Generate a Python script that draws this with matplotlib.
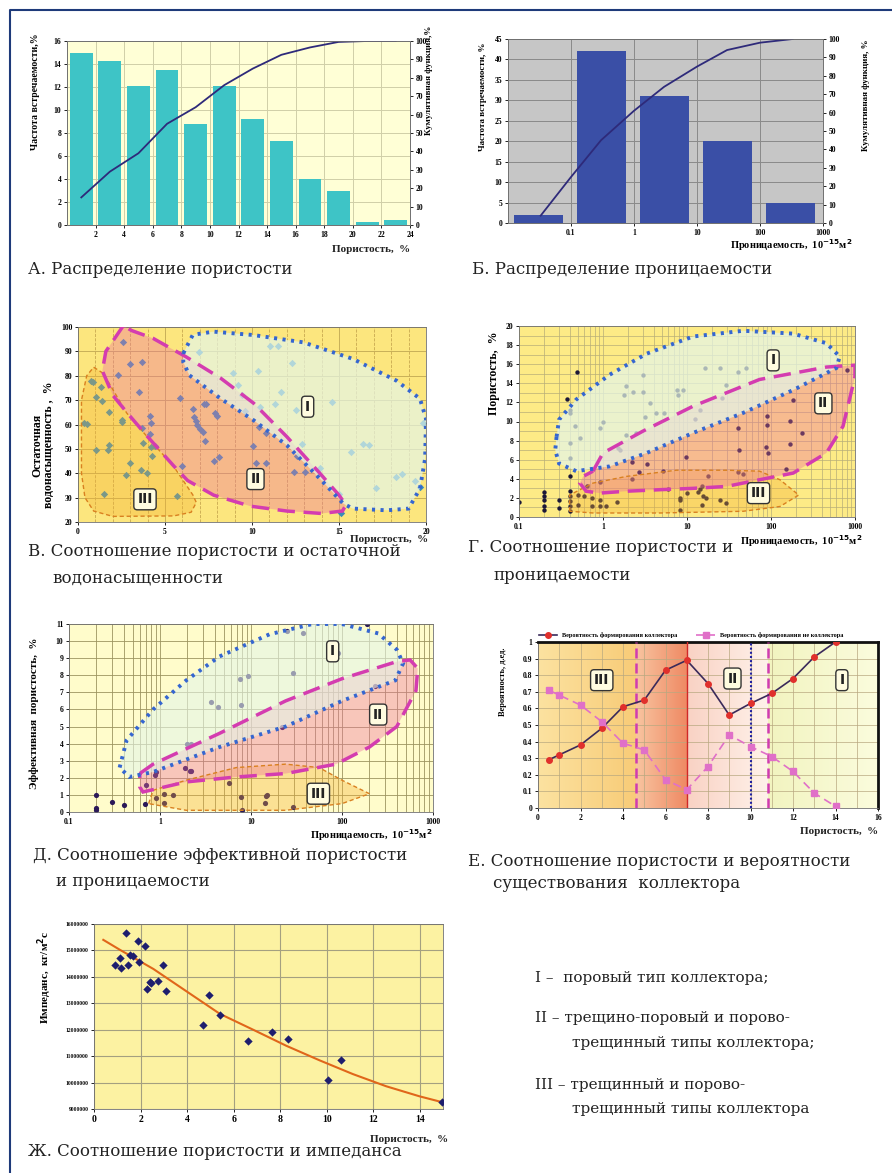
import numpy as np
import matplotlib
matplotlib.use('Agg')
import matplotlib.pyplot as plt
from matplotlib.patches import Polygon
from matplotlib.lines import Line2D
from matplotlib.colors import LinearSegmentedColormap
from matplotlib.ticker import FuncFormatter

plt.rcParams['font.family'] = ['Liberation Serif', 'DejaVu Serif']
plt.rcParams['font.weight'] = 'bold'

# ---------------- data ----------------
# A: porosity distribution
poro_bin_mid = [1, 3, 5, 7, 9, 11, 13, 15, 17, 19, 21, 23]
poro_freq = [15.0, 14.3, 12.1, 13.5, 8.8, 12.1, 9.2, 7.3, 4.0, 3.0, 0.3, 0.4]
poro_cum = [15, 29, 39, 55, 64, 76, 85, 92.5, 96.5, 99.5, 100, 100]

# B: permeability distribution
perm_bin_low = [0.01, 0.1, 1, 10, 100]
perm_freq = [2, 42, 31, 20, 5]
perm_cum_x = [0.033, 0.1, 0.3, 1, 3, 10, 30, 100, 330]
perm_cum_y = [4, 25, 45, 61, 74, 85, 94, 98, 100]

# V: porosity vs residual water saturation
v_poro = [2.6, 3.0, 3.66, 2.28, 3.53, 0.77, 0.88, 1.32, 1.05, 1.4, 1.8, 0.34, 0.5,
          2.55, 2.5, 4.14, 4.18, 3.66, 4.14, 1.02, 1.8, 1.7, 3.75, 4.18, 4.43, 4.23,
          3.0, 2.76, 3.6, 3.98, 1.49, 5.67, 5.96, 5.86, 6.59, 6.68, 6.78, 6.82, 7.01,
          7.16, 7.3, 7.26, 7.36, 7.88, 7.97, 7.81, 8.12, 6.97, 8.93, 9.2, 9.4, 9.6,
          10.04, 10.42, 10.23, 10.36, 10.46, 10.83, 10.83, 11.05, 11.5, 11.64, 11.3,
          12.3, 12.5, 12.6, 12.9, 13.05, 12.4, 13.9, 14.6, 15.0, 15.1, 15.7, 16.4,
          16.7, 17.1, 18.3, 18.6, 19.35, 19.65, 19.85]
v_swr = [93.7, 84.7, 85.5, 80.3, 73.5, 77.8, 77.5, 75.5, 71.2, 69.7, 65.3, 60.5, 60.1,
         62, 61, 63.5, 60.5, 58.5, 56.0, 49.5, 51.5, 49.5, 52.5, 50.7, 51, 47.1,
         44.1, 39.4, 41.4, 40, 31.5, 30.7, 43, 70.8, 66.2, 63, 61.6, 60, 58,
         57, 53.3, 68.6, 68.3, 64.6, 63.3, 45.0, 46.6, 89.9, 81.3, 76.3, 72.2, 65.4,
         51, 58.8, 44.1, 82, 67.3, 56.5, 44.1, 92.2, 92.3, 73.5, 68.3,
         85.4, 66.1, 47, 52, 40.5, 40.7, 42, 69.1, 31.6, 23.8, 48.8, 52.2,
         51.5, 33.8, 38.4, 39.7, 37, 34.3, 60.5]

# G: permeability vs porosity
g_perm = [0.1, 0.2, 0.2, 0.2, 0.2, 0.2, 0.3, 0.3, 0.4, 0.4, 0.4, 0.4, 0.4, 0.37,
          0.4, 0.4, 0.4, 0.49, 0.5, 0.5, 0.6, 0.64, 0.73, 0.73, 0.91, 0.91, 0.91,
          1.1, 1.45, 2.2, 2.2, 2.7, 3.35, 5.2, 5.9, 9.6, 8.2, 8.2, 8.3, 10, 13.7,
          14.3, 15, 15.3, 17, 15, 24.5, 29.5, 17.9, 40.7, 41.8, 40.7, 46.6, 87, 93,
          89, 90, 184, 168, 168, 152, 236, 800,
          0.46, 0.4, 0.4, 0.53, 1.0, 0.91, 1.9, 2.5, 1.8, 1.87, 2.3, 3.0, 3.15, 3.6,
          4.3, 5.3, 3.0, 7.7, 7.9, 9.0, 12.4, 14.4, 16.2, 24.5, 29.5, 26.2, 40.7,
          51, 1.5, 1.6]
g_poro = [1.53, 2.58, 2.16, 1.74, 1.11, 0.77, 1.8, 0.94, 2.7, 2.16, 1.64, 1.1, 0.6,
          12.4, 11.2, 10.9, 4.3, 15.2, 2.3, 1.3, 2.2, 3.2, 2.0, 1.1, 1.1, 1.8, 3.7,
          1.1, 1.6, 5.8, 4.0, 4.7, 5.5, 4.8, 2.9, 6.3, 2.0, 1.74, 0.77, 2.5, 2.6,
          2.9, 3.2, 2.2, 2.0, 1.3, 1.8, 1.46, 4.25, 9.3, 7.0, 4.7, 4.5, 7.3, 6.7,
          9.65, 10.6, 12.3, 10.1, 7.6, 5.0, 8.8, 15.4,
          9.5, 7.7, 6.2, 8.3, 10.0, 9.3, 8.6, 8.8, 12.8, 13.7, 13.1, 14.9, 10.5, 11.9,
          10.9, 10.9, 13.1, 13.3, 12.8, 13.3, 10.3, 11.2, 15.6, 15.6, 13.8, 12.5, 15.2,
          15.6, 7.2, 7.0]

# D: permeability vs effective porosity
d_perm = [0.2, 0.2, 0.2, 0.3, 0.4, 0.69, 0.7, 0.91, 0.89, 0.91, 1.1, 1.1, 1.38,
          1.9, 2.15, 2.2, 2.2, 5.8, 7.8, 8.0, 14.1, 14.7, 14.9, 29,
          3.66, 4.3, 7.5, 9.2, 7.8, 29, 25, 37, 190, 90, 230, 22, 2.0]
d_poro = [0.98, 0.25, 0.14, 0.59, 0.39, 0.49, 1.56, 0.84, 2.15, 2.34, 1.07, 0.53, 1.0,
          2.6, 2.4, 2.4, 4.0, 1.7, 0.9, 0.14, 0.5, 0.92, 1.0, 0.3,
          6.45, 6.15, 7.8, 7.95, 6.25, 8.15, 10.6, 10.5, 11.0, 9.3, 7.4, 5.0, 4.0]

# E: porosity vs probability
e_poro = [0.5, 1, 2, 3, 4, 5, 6, 7, 8, 9, 10, 11, 12, 13, 14]
e_prob_res = [0.29, 0.32, 0.38, 0.48, 0.61, 0.65, 0.83, 0.89, 0.75, 0.56, 0.63, 0.69,
              0.78, 0.91, 1.0]
e_prob_non = [0.71, 0.68, 0.62, 0.52, 0.39, 0.35, 0.17, 0.11, 0.25, 0.44, 0.37, 0.31,
              0.22, 0.09, 0.01]
e_zone_edges = [0, 4.6, 7, 10.8, 16]

# Zh: porosity vs impedance
z_poro = [0.9, 1.12, 1.16, 1.37, 1.47, 1.55, 1.69, 1.9, 1.95, 2.19, 2.26, 2.4, 2.47,
          2.76, 2.98, 3.09, 4.69, 4.95, 5.41, 6.6, 7.65, 8.34, 10.06, 10.63, 14.96]
z_imp = [14.45, 14.7, 14.33, 15.67, 14.45, 14.83, 14.8, 15.37, 14.58, 15.17, 13.55,
         13.82, 13.76, 13.86, 14.45, 13.47, 12.16, 13.32, 12.56, 11.58, 11.9, 11.64,
         10.08, 10.86, 9.28]
z_trend_x = [0.4, 1.12, 2.55, 3.98, 5.41, 6.84, 8.27, 9.7, 11.13, 12.56, 13.99, 15]
z_trend_y = [15.4, 15.02, 14.3, 13.45, 12.6, 12.0, 11.39, 10.84, 10.32, 9.86, 9.48, 9.25]

# zone outlines (hand traced)
v_zone3 = [(0.9, 83.5), (1.45, 81), (2.8, 64.7), (4.3, 52.3), (5.5, 42.8), (6.6, 31.1),
           (6.8, 28), (6.5, 24), (5.5, 22.5), (2.0, 22.3), (0.9, 24.5), (0.4, 30),
           (0.2, 40), (0.2, 70), (0.5, 80)]
v_zone2 = [(2.6, 100.5), (1.6, 90), (1.4, 82), (2.0, 72), (2.8, 65), (4.0, 55), (5.5, 43),
           (6.3, 37), (7.8, 31), (9.9, 26.5), (12, 24.5), (14, 23.5), (15.2, 24.5),
           (15.4, 27), (15.0, 31), (13.9, 40), (12, 55), (10.1, 68.7), (8.2, 79),
           (6.2, 87.8), (4.3, 95.4), (3.1, 98.5)]
v_zone1 = [(6.05, 89.2), (6.6, 96.8), (7.78, 98.1), (10.08, 96.7), (12.95, 93.7),
           (15.8, 86.9), (18.3, 78), (19.65, 70.6), (20.0, 62.4), (19.95, 46),
           (19.65, 33.7), (19.0, 25.5), (17.75, 24.8), (15.8, 25.5), (15.25, 27.5),
           (13.9, 37.8), (12.0, 51.5), (10.1, 61.7), (8.2, 70.6), (6.4, 80.2), (6.05, 85.6)]

g_zone1 = [(0.28, 8.4), (0.3, 10.2), (0.48, 12.3), (1.2, 14.9), (3.3, 17.1), (11.8, 18.9),
           (46.6, 19.5), (184, 19.2), (456, 18.2), (658, 16.8), (600, 15.6), (184, 13.3),
           (46.6, 10.9), (11.8, 8.8), (3.3, 6.7), (1.2, 5.3), (0.48, 4.8), (0.3, 5.6),
           (0.27, 7.0)]
g_zone2 = [(0.76, 4.8), (1.0, 6.7), (3.0, 9.0), (11.8, 11.6), (73, 14.4), (456, 15.7),
           (1000, 15.9), (1000, 14.7), (720, 9.5), (456, 6.7), (184, 4.6), (73, 3.9),
           (29.5, 3.2), (11.8, 3.0), (4.8, 2.86), (1.9, 2.7), (0.91, 2.5), (0.63, 2.7),
           (0.53, 3.55), (0.58, 4.25)]
g_zone3 = [(0.4, 0.6), (0.4, 2.3), (0.76, 3.55), (1.9, 4.25), (7.5, 4.9), (29.5, 4.9),
           (73, 4.8), (128, 3.9), (214, 2.3), (128, 1.1), (46.6, 0.6), (4.8, 0.42),
           (0.76, 0.42)]

d_zone1 = [(0.36, 2.6), (0.43, 4.2), (0.84, 6.0), (1.94, 7.7), (4.5, 9.1), (16, 10.4),
           (47.5, 11.0), (100, 11.0), (250, 10.45), (400, 9.5), (470, 8.7), (385, 7.7),
           (100, 6.5), (24, 5.0), (4.5, 3.8), (0.84, 2.34), (0.46, 2.05)]
d_zone2 = [(0.6, 2.25), (0.84, 2.8), (4.5, 4.6), (24, 6.5), (100, 7.8), (400, 8.8),
           (560, 8.9), (680, 8.4), (650, 7.1), (400, 5.0), (200, 3.8), (86, 2.8),
           (24, 2.25), (6.9, 2.05), (1.94, 1.76), (0.65, 1.17), (0.6, 1.46), (0.6, 1.86)]
d_zone3 = [(0.75, 0.49), (0.84, 1.27), (1.94, 1.86), (6.9, 2.6), (24, 2.8), (56, 2.6),
           (100, 1.86), (200, 1.07), (100, 0.49), (24, 0.1), (1.94, 0.1)]

# ---------------- layout helpers ----------------
W, H = 892, 1173
fig = plt.figure(figsize=(W / 100, H / 100), dpi=100)


def panel(x0, y0, x1, y1, bg):
    ax = fig.add_axes([x0 / W, 1 - y1 / H, (x1 - x0) / W, (y1 - y0) / H])
    ax.set_facecolor(bg)
    ax.tick_params(labelsize=5.5, length=2, width=0.6, pad=2)
    for s in ax.spines.values():
        s.set_linewidth(0.6)
        s.set_color('#707070')
    ax.set_axisbelow(True)
    return ax


def ftext(x, y, s, **kw):
    return fig.text(x / W, 1 - y / H, s, **kw)


def caption(x, y, s):
    ftext(x, y, s, fontsize=12, family='DejaVu Serif', fontweight='normal',
          ha='left', va='center', color='#222222')


def zone_box(ax, x, y, s):
    ax.text(x, y, s, ha='center', va='center', fontsize=10, fontweight='bold',
            family='DejaVu Sans', color='#222222', zorder=10,
            bbox=dict(boxstyle='round,pad=0.25', fc='#FFFCE0', ec='#333333', lw=1.0))


def zones(ax, z1, z2, z3, a1=0.6):
    ax.add_patch(Polygon(z3, closed=True, fc='#F5B030', alpha=0.35, ec='none', zorder=3))
    ax.add_patch(Polygon(z2, closed=True, fc='#EE6FA0', alpha=0.38, ec='none', zorder=3))
    ax.add_patch(Polygon(z1, closed=True, fc='#E4F6E8', alpha=a1, ec='none', zorder=3))
    ax.add_patch(Polygon(z3, closed=True, fill=False, ec='#D98020', lw=1.0,
                         ls=(0, (3, 2)), zorder=5))
    ax.add_patch(Polygon(z2, closed=True, fill=False, ec='#D43CB0', lw=2.5,
                         ls=(0, (5, 2.5)), zorder=5))
    ax.add_patch(Polygon(z1, closed=True, fill=False, ec='#3566D0', lw=2.8,
                         ls=(0, (0.8, 1.4)), zorder=6))


def right_axis(ax):
    ax2 = ax.twinx()
    ax2.set_ylim(0, 100)
    ax2.set_yticks(range(0, 101, 10))
    ax2.tick_params(labelsize=5.5, length=2, width=0.6, pad=2)
    for s in ax2.spines.values():
        s.set_linewidth(0.6)
        s.set_color('#707070')
    return ax2


lab_kw = dict(fontsize=8, fontweight='bold', color='#222222')
perm_label = 'Проницаемость,  10$^{-15}$м$^2$'

# ---------------- A ----------------
ax = panel(67, 41, 410, 225, '#FFFFD6')
ax.bar(poro_bin_mid, poro_freq, width=1.6, color='#3EC4C6', zorder=2)
ax.set_xlim(0, 24)
ax.set_ylim(0, 16)
ax.set_xticks(range(2, 25, 2))
ax.set_yticks(range(0, 17, 2))
ax.grid(color='#D0CFA8', lw=0.7)
ax2 = right_axis(ax)
ax2.plot(poro_bin_mid, poro_cum, color='#2E2A7A', lw=1.3)
ftext(36, 33, 'Частота встречаемости,%', rotation=90, ha='center', va='top', fontsize=7)
ftext(429, 26, 'Кумулятивная функция,%', rotation=90, ha='center', va='top', fontsize=6.5)
ftext(410, 250, 'Пористость,  %', ha='right', va='center', **lab_kw)
caption(28, 270, 'А. Распределение пористости')

# ---------------- B ----------------
ax = panel(508, 39, 823, 223, '#C6C6C6')
ax.set_xscale('log')
for low, h in zip(perm_bin_low, perm_freq):
    ax.fill_between([low * 10 ** 0.1, low * 10 ** 0.88], 0, h, color='#3A4FA6',
                    lw=0, zorder=2)
ax.set_xlim(0.01, 1000)
ax.set_ylim(0, 45)
ax.set_xticks([0.1, 1, 10, 100, 1000])
ax.set_xticklabels(['0.1', '1', '10', '100', '1000'])
ax.minorticks_off()
ax.set_yticks(range(0, 46, 5))
ax.grid(color='#8A8A8A', lw=0.7)
ax2 = right_axis(ax)
ax2.plot(perm_cum_x, perm_cum_y, color='#2E2A7A', lw=1.3)
ftext(483, 97, 'Частота встречаемости, %', rotation=90, ha='center', va='center', fontsize=6.5)
ftext(866, 95, 'Кумулятивная функция, %', rotation=90, ha='center', va='center', fontsize=6.5)
ftext(852, 245, perm_label, ha='right', va='center', fontsize=7.5, fontweight='bold')
caption(472, 270, 'Б. Распределение проницаемости')

# ---------------- V ----------------
ax = panel(78, 327, 426, 522, '#FCE67E')
ax.scatter(v_poro, v_swr, marker='D', s=14, color='#3A8CB8', zorder=2, lw=0)
zones(ax, v_zone1, v_zone2, v_zone3, a1=0.7)
ax.set_xlim(0, 20)
ax.set_ylim(20, 100)
ax.set_xticks([0, 5, 10, 15, 20])
ax.set_yticks(range(20, 101, 10))
ax.set_xticks(range(0, 21), minor=True)
ax.tick_params(which='minor', length=0)
ax.grid(which='major', color='#C8B058', lw=0.7)
ax.grid(which='minor', axis='x', color='#C8A850', lw=0.6, ls='--')
zone_box(ax, 13.2, 67.3, 'I')
zone_box(ax, 10.2, 37.6, 'II')
zone_box(ax, 3.85, 29.3, 'III')
ftext(43, 445, 'Остаточная\nводонасыщенность ,  %', rotation=90, ha='center', va='center',
      fontsize=8.5, fontweight='bold', linespacing=1.0)
ftext(428, 540, 'Пористость,  %', ha='right', va='center', **lab_kw)
caption(28, 551, 'В. Соотношение пористости и остаточной')
caption(52, 578, 'водонасыщенности')

# ---------------- G ----------------
ax = panel(519, 326, 855, 517, '#FDEB86')
ax.set_xscale('log')
ax.scatter(g_perm, g_poro, s=10, color='#1C1838', zorder=2, lw=0)
zones(ax, g_zone1, g_zone2, g_zone3, a1=0.72)
ax.set_xlim(0.1, 1000)
ax.set_ylim(0, 20)
ax.set_xticks([0.1, 1, 10, 100, 1000])
ax.set_xticklabels(['0.1', '1', '10', '100', '1000'])
ax.set_yticks(range(0, 21, 2))
ax.set_yticks(range(0, 21), minor=True)
ax.tick_params(which='minor', length=0)
ax.grid(which='both', color='#B8AE78', lw=0.5)
zone_box(ax, 106, 16.4, 'I')
zone_box(ax, 420, 11.9, 'II')
zone_box(ax, 71, 2.5, 'III')
ftext(494, 373, 'Пористость,  %', rotation=90, ha='center', va='center', fontsize=8.5)
ftext(862, 541, perm_label, ha='right', va='center', fontsize=7.5, fontweight='bold')
caption(468, 548, 'Г. Соотношение пористости и')
caption(493, 575, 'проницаемости')

# ---------------- D ----------------
ax = panel(69, 624, 433, 812, '#FFFCCB')
ax.set_xscale('log')
ax.scatter(d_perm, d_poro, s=14, color='#2A1858', zorder=2, lw=0)
zones(ax, d_zone1, d_zone2, d_zone3, a1=0.6)
ax.set_xlim(0.1, 1000)
ax.set_ylim(0, 11)
ax.set_xticks([0.1, 1, 10, 100, 1000])
ax.set_xticklabels(['0.1', '1', '10', '100', '1000'])
ax.set_yticks(range(0, 12))
ax.tick_params(which='minor', length=0)
ax.grid(which='both', color='#9C9460', lw=0.6)
zone_box(ax, 79, 9.4, 'I')
zone_box(ax, 250, 5.7, 'II')
zone_box(ax, 55, 1.07, 'III')
ftext(34, 713, 'Эффективная  пористость,  %', rotation=90, ha='center', va='center', fontsize=8)
ftext(432, 835, perm_label, ha='right', va='center', fontsize=7.5, fontweight='bold')
caption(33, 856, 'Д. Соотношение эффективной пористости')
caption(56, 881, 'и проницаемости')

# ---------------- E ----------------
ax = panel(538, 642, 878, 808, '#FFFFFF')
band_colors = [('#FCE2A0', '#F8CC78'), ('#F8C4A0', '#EF8A64'),
               ('#F9D2C4', '#FFF2EA'), ('#F2F4C0', '#FBFCDD')]
for (a, b), (c0, c1) in zip(zip(e_zone_edges[:-1], e_zone_edges[1:]), band_colors):
    cmap = LinearSegmentedColormap.from_list('band', [c0, c1])
    ax.imshow(np.linspace(0, 1, 64).reshape(1, -1), cmap=cmap, aspect='auto',
              extent=(a, b, 0, 1), zorder=0, interpolation='bilinear')
ax.set_xlim(0, 16)
ax.set_ylim(0, 1)
ax.set_xticks(range(0, 17, 2))
ax.set_xticks(range(0, 17), minor=True)
ax.set_yticks(np.round(np.arange(0, 1.01, 0.1), 1))
ax.set_yticklabels(['0', '0.1', '0.2', '0.3', '0.4', '0.5', '0.6', '0.7', '0.8', '0.9', '1'])
ax.tick_params(which='minor', length=0)
ax.grid(which='both', color='#B8A880', lw=0.5, zorder=1)
ax.axvline(4.6, color='#D03CB0', lw=1.8, ls=(0, (4, 2)), zorder=3)
ax.axvline(7, color='#D02828', lw=1.0, zorder=3)
ax.axvline(10, color='#2020A0', lw=1.5, ls=(0, (1, 1)), zorder=3)
ax.axvline(10.8, color='#D03CB0', lw=1.8, ls=(0, (4, 2)), zorder=3)
ax.plot(e_poro, e_prob_res, color='#3A2A5A', lw=1.2, marker='o', ms=4,
        mfc='#E0302C', mec='#E0302C', zorder=4, label='Вероятность формирования коллектора')
ax.plot(e_poro, e_prob_non, color='#E070C8', lw=1.2, ls=(0, (5, 3)), marker='s', ms=4,
        mfc='#E070C8', mec='#E070C8', zorder=4, label='Вероятность формирования не коллектора')
ax.spines['top'].set_linewidth(2)
ax.spines['right'].set_linewidth(2)
ax.spines['top'].set_color('#111111')
ax.spines['right'].set_color('#111111')
ax.legend(loc='lower center', bbox_to_anchor=(0.45, 1.01), ncol=2, fontsize=4.5,
          frameon=False, handlelength=3, columnspacing=3, borderaxespad=0)
zone_box(ax, 3.0, 0.77, 'III')
zone_box(ax, 9.15, 0.78, 'II')
zone_box(ax, 14.3, 0.77, 'I')
ftext(503, 682, 'Вероятность, д.ед.', rotation=90, ha='center', va='center', fontsize=6)
ftext(878, 832, 'Пористость,  %', ha='right', va='center', **lab_kw)
caption(468, 862, 'Е. Соотношение пористости и вероятности')
caption(493, 884, 'существования  коллектора')

# ---------------- Zh ----------------
ax = panel(94, 924, 443, 1109, '#FCF2A2')
ax.scatter(z_poro, np.multiply(z_imp, 1e6), marker='D', s=18, color='#1E1E6E', zorder=3, lw=0)
ax.plot(z_trend_x, np.multiply(z_trend_y, 1e6), color='#E0661A', lw=1.5, zorder=2)
ax.set_xlim(0, 15)
ax.set_ylim(9e6, 16e6)
ax.set_xticks(range(0, 15, 2))
ax.set_yticks(np.arange(9e6, 16.1e6, 1e6))
ax.yaxis.set_major_formatter(FuncFormatter(lambda v, p: f'{int(round(v))}'))
ax.tick_params(axis='y', labelsize=4)
ax.tick_params(axis='x', labelsize=7)
ax.grid(color='#A4A080', lw=0.8)
ftext(45, 977, 'Импеданс,  кг/м$^2$с', rotation=90, ha='center', va='center', fontsize=8)
ftext(448, 1139, 'Пористость,  %', ha='right', va='center', **lab_kw)
caption(28, 1152, 'Ж. Соотношение пористости и импеданса')

# ---------------- legend text ----------------
leg_kw = dict(fontsize=11, family='DejaVu Serif', fontweight='normal', color='#222222',
              ha='left', va='center')
ftext(535, 978, 'I –  поровый тип коллектора;', **leg_kw)
ftext(535, 1018, 'II – трещино-поровый и порово-', **leg_kw)
ftext(572, 1043, 'трещинный типы коллектора;', **leg_kw)
ftext(535, 1085, 'III – трещинный и порово-', **leg_kw)
ftext(572, 1109, 'трещинный типы коллектора', **leg_kw)

# frame (top and left edges, as visible in the scan)
fig.add_artist(Line2D([10 / W, 10 / W, 1], [0, 1 - 10 / H, 1 - 10 / H],
                      transform=fig.transFigure, color='#1E3A7A', lw=1.5))

fig.savefig('out.png', dpi=100)
